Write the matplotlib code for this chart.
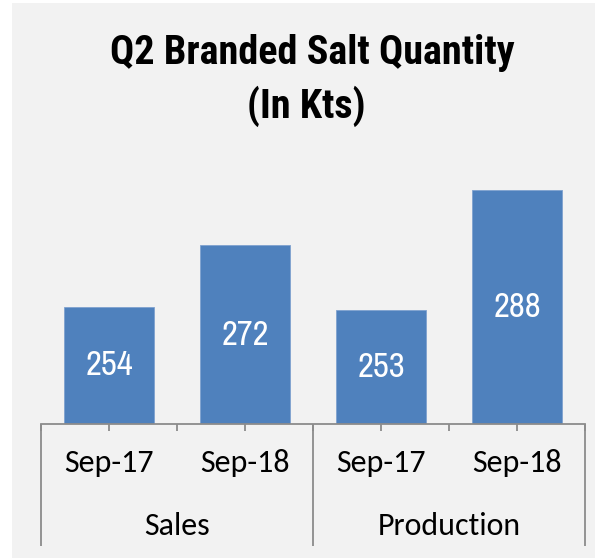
import matplotlib.pyplot as plt
from matplotlib.patches import Rectangle
import matplotlib.transforms as mtransforms
import logging

logging.getLogger("matplotlib.font_manager").setLevel(logging.ERROR)

# chart data
groups = ["Sales", "Production"]
periods = ["Sep-17", "Sep-18", "Sep-17", "Sep-18"]
values = [254, 272, 253, 288]

bar_color = "#4F81BD"
axis_color = "#8C8C8C"
title_font = ["Roboto Condensed", "Barlow Semi Condensed", "DejaVu Sans"]
value_font = ["Liberation Sans Narrow", "Archivo Narrow", "DejaVu Sans"]
label_font = ["Carlito", "Calibri", "Lato", "DejaVu Sans"]

fig = plt.figure(figsize=(5.95, 5.58), dpi=100, facecolor="white")

# light grey chart area with a thin white margin at top/left
fig.patches.append(Rectangle((12 / 595, 0), 1, 1 - 3 / 558, transform=fig.transFigure,
                             facecolor="#F2F2F2", edgecolor="none", zorder=-1))

ax = fig.add_axes([41 / 595, 134 / 558, 544 / 595, 275.3 / 558])
ax.set_facecolor("none")

x = list(range(len(values)))
bars = ax.bar(x, values, width=0.66, color=bar_color, edgecolor="#7FA2CF", linewidth=0.6,
              zorder=2)
ax.set_ylim(220, 300)
ax.set_xlim(-0.5, len(values) - 0.5)

# value labels inside bars
for b, v in zip(bars, values):
    ax.text(b.get_x() + b.get_width() / 2, (220 + v) / 2, str(v), ha="center", va="center",
            color="white", fontsize=25, family=value_font, zorder=3)

# axes styling
for s in ["top", "right", "left"]:
    ax.spines[s].set_visible(False)
ax.spines["bottom"].set_color(axis_color)
ax.spines["bottom"].set_linewidth(1.3)
ax.set_yticks([])
ax.set_xticks([i * 0.5 - 0.5 for i in range(2 * len(values) + 1)])
ax.set_xticklabels([])
ax.tick_params(axis="x", direction="out", length=5, width=1.3, color=axis_color)

trans = mtransforms.blended_transform_factory(ax.transData, ax.transAxes)

# first level labels
for i, p in enumerate(periods):
    ax.text(i, -0.142, p, transform=trans, ha="center", va="center", fontsize=23,
            family=label_font, color="black")

# group labels and separators
n_per = len(periods) // len(groups)
for g, name in enumerate(groups):
    center = g * n_per + (n_per - 1) / 2
    ax.text(center, -0.37, name, transform=trans, ha="center", va="center", fontsize=23,
            family=label_font, color="black")
for sep in range(len(groups) + 1):
    xs = sep * n_per - 0.5
    ax.plot([xs, xs], [0, -0.443], transform=trans, color=axis_color, lw=1.3,
            clip_on=False, solid_capstyle="butt")

# title
fig.text(312 / 595, 1 - 64.5 / 558, "Q2 Branded Salt Quantity", ha="center", va="baseline",
         fontsize=29, fontweight="bold", family=title_font)
fig.text(306 / 595, 1 - 117.6 / 558, "(In Kts)", ha="center", va="baseline",
         fontsize=29, fontweight="bold", family=title_font)

fig.savefig("out.png", dpi=100, facecolor=fig.get_facecolor())
